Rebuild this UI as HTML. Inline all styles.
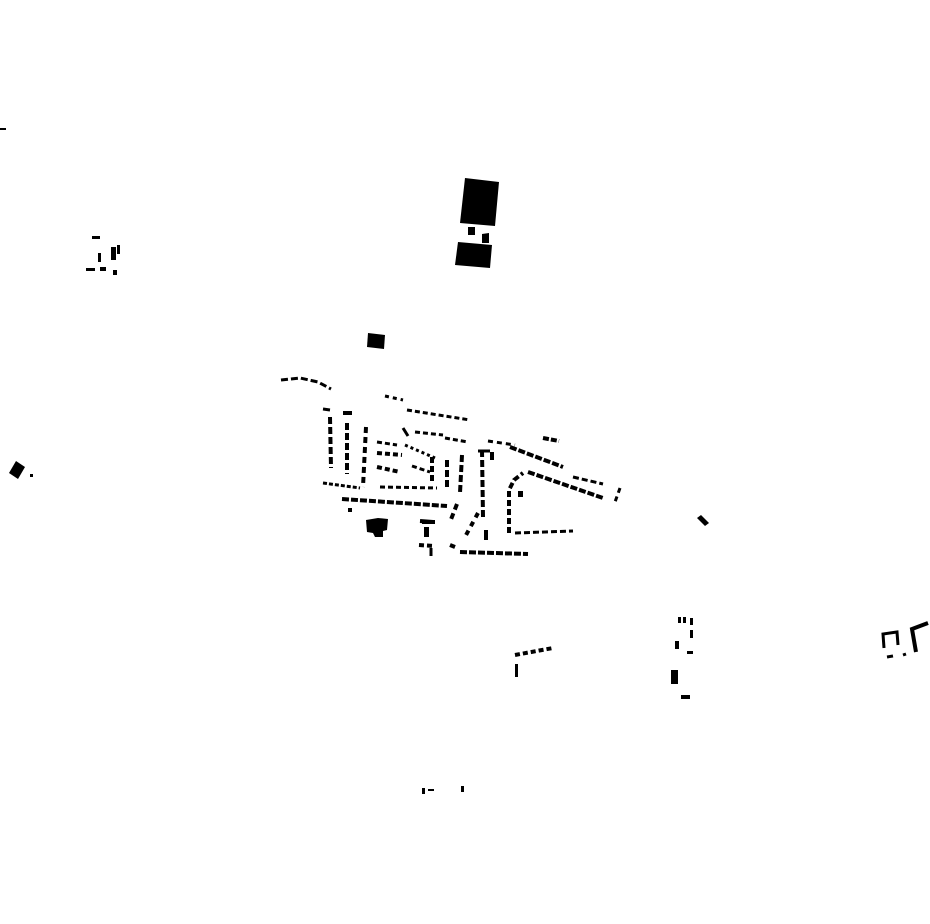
<!DOCTYPE html>
<html><head><style>html,body{margin:0;padding:0;background:#fff}svg{display:block}</style></head>
<body>
<svg width="930" height="924" viewBox="0 0 930 924" xmlns="http://www.w3.org/2000/svg">
<g fill="#000">
<polygon points="465,178 499,182 495,226 460,223"/>
<rect x="468" y="227" width="7" height="8"/>
<polygon points="482,234 489,233 489,243 482,243"/>
<polygon points="458,242 492,245 490,268 455,265"/>
<polygon points="368,333 385,335 384,349 367,347"/>
<rect x="0" y="128" width="6" height="2"/>
<rect x="92" y="236" width="8" height="3"/>
<rect x="98" y="253" width="3" height="9"/>
<rect x="86" y="268" width="9" height="3"/>
<rect x="100" y="267" width="6" height="4"/>
<rect x="111" y="247" width="5" height="13"/>
<rect x="117" y="245" width="3" height="9"/>
<rect x="113" y="270" width="4" height="5"/>
<polygon points="16,461 25,467 18,479 9,473"/>
<rect x="30" y="474" width="3" height="3"/>
<polygon points="366,520 378,518 388,519 387,530 383,531 383,537 375,537 373,533 367,532"/>
<polygon points="697,518 701,515 709,523 705,526"/>
<rect x="671" y="670" width="7" height="14"/>
<rect x="681" y="695" width="9" height="4"/>
<rect x="675" y="641" width="4" height="8"/>
<rect x="687" y="651" width="6" height="3"/>
<rect x="690" y="630" width="3" height="8"/>
<rect x="678" y="617" width="3" height="6"/>
<rect x="683" y="617" width="3" height="6"/>
<rect x="690" y="618" width="3" height="7"/>
<rect x="515" y="664" width="3" height="13"/>
<rect x="422" y="788" width="3" height="6"/>
<rect x="428" y="789" width="6" height="2"/>
<rect x="461" y="786" width="3" height="6"/>
<rect x="422" y="520" width="13" height="4"/>
<rect x="424" y="527" width="5" height="10"/>
<rect x="484" y="530" width="4" height="10"/>
<rect x="518" y="491" width="5" height="6"/>
<rect x="348" y="508" width="4" height="4"/>
</g>
<g fill="none" stroke="#000" stroke-width="4">
<polyline points="281,380 300,378 318,382 331,389" stroke-width="3" stroke-dasharray="7,3"/>
<line x1="330" y1="417" x2="331" y2="468" stroke-dasharray="7,3"/>
<line x1="323" y1="409" x2="330" y2="410" stroke-width="3"/>
<line x1="343" y1="413" x2="352" y2="413"/>
<line x1="347" y1="423" x2="347" y2="474" stroke-dasharray="7,3"/>
<line x1="366" y1="427" x2="363" y2="487" stroke-dasharray="6,4"/>
<line x1="377" y1="442" x2="397" y2="445" stroke-width="3" stroke-dasharray="5,3"/>
<line x1="377" y1="453" x2="402" y2="455" stroke-dasharray="5,3"/>
<line x1="377" y1="467" x2="400" y2="472" stroke-dasharray="5,3"/>
<line x1="323" y1="483" x2="360" y2="488" stroke-width="3" stroke-dasharray="4,2"/>
<line x1="380" y1="487" x2="437" y2="488" stroke-width="3" stroke-dasharray="5,3"/>
<line x1="342" y1="499" x2="447" y2="506" stroke-dasharray="7,2"/>
<line x1="385" y1="396" x2="403" y2="400" stroke-width="3" stroke-dasharray="4,4"/>
<line x1="407" y1="410" x2="470" y2="420" stroke-width="3" stroke-dasharray="5,3"/>
<line x1="415" y1="432" x2="443" y2="435" stroke-width="3" stroke-dasharray="5,3"/>
<line x1="403" y1="428" x2="408" y2="436" stroke-width="3"/>
<line x1="445" y1="438" x2="468" y2="442" stroke-width="3" stroke-dasharray="5,3"/>
<line x1="405" y1="445" x2="435" y2="458" stroke-width="3" stroke-dasharray="3,3"/>
<line x1="412" y1="466" x2="430" y2="472" stroke-width="3" stroke-dasharray="5,3"/>
<line x1="432" y1="457" x2="432" y2="483" stroke-dasharray="6,3"/>
<line x1="447" y1="460" x2="447" y2="490" stroke-dasharray="7,3"/>
<line x1="462" y1="455" x2="460" y2="493" stroke-dasharray="7,3"/>
<line x1="482" y1="450" x2="483" y2="517" stroke-dasharray="7,3"/>
<line x1="478" y1="451" x2="490" y2="451" stroke-width="3"/>
<line x1="492" y1="452" x2="492" y2="460"/>
<line x1="457" y1="504" x2="450" y2="522" stroke-dasharray="6,4"/>
<line x1="478" y1="513" x2="465" y2="537" stroke-dasharray="5,5"/>
<line x1="450" y1="545" x2="455" y2="547"/>
<line x1="460" y1="552" x2="528" y2="554" stroke-dasharray="7,2"/>
<polyline points="509,533 509,490 514,480 523,473" stroke-dasharray="6,3"/>
<line x1="515" y1="533" x2="573" y2="531" stroke-width="3" stroke-dasharray="6,3"/>
<line x1="488" y1="441" x2="515" y2="445" stroke-width="3" stroke-dasharray="5,4"/>
<line x1="510" y1="447" x2="563" y2="467" stroke-dasharray="7,2"/>
<line x1="528" y1="472" x2="603" y2="498" stroke-dasharray="7,2"/>
<line x1="573" y1="477" x2="603" y2="484" stroke-width="3" stroke-dasharray="6,3"/>
<line x1="620" y1="488" x2="615" y2="502" stroke-width="3" stroke-dasharray="5,4"/>
<line x1="543" y1="438" x2="559" y2="441" stroke-dasharray="6,2"/>
<line x1="515" y1="655" x2="553" y2="648" stroke-dasharray="5,3"/>
<line x1="419" y1="545" x2="434" y2="546" stroke-dasharray="5,3"/>
<line x1="431" y1="548" x2="431" y2="556" stroke-width="3"/>
<line x1="420" y1="521" x2="433" y2="522"/>
</g>
<g fill="none" stroke="#000" stroke-width="3">
<polyline points="884,648 883,634 897,632 898,645"/>
<line x1="887" y1="657" x2="893" y2="656"/>
<line x1="903" y1="655" x2="906" y2="654"/>
<polyline points="928,623 912,629 916,652" stroke-width="4"/>
</g>
</svg>
</body></html>
